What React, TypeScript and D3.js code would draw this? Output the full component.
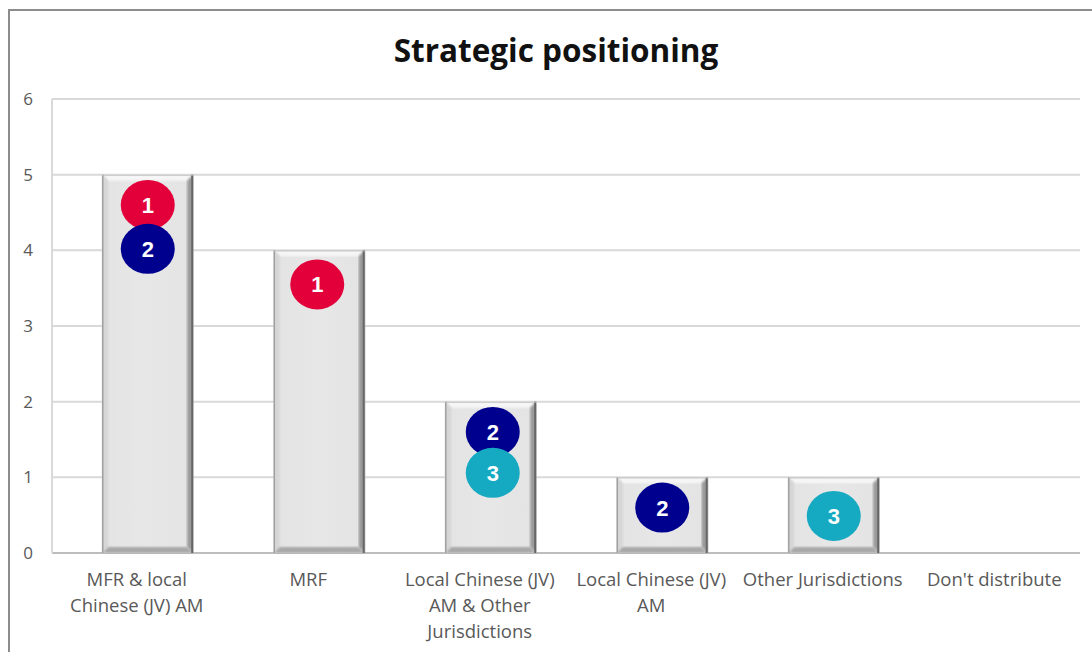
import React from "react";
import * as d3 from "d3";

const categories = [
  ["MFR & local", "Chinese (JV) AM"],
  ["MRF"],
  ["Local Chinese (JV)", "AM & Other", "Jurisdictions"],
  ["Local Chinese (JV)", "AM"],
  ["Other Jurisdictions"],
  ["Don't distribute"],
];
const barValues = [5, 4, 2, 1, 1, 0];
// markers: category index, y value, rank label
const markerCat = [0, 0, 1, 2, 2, 3, 4];
const markerY = [4.6, 4.02, 3.55, 1.6, 1.06, 0.6, 0.49];
const markerRank = [1, 2, 1, 2, 3, 2, 3];
const yTicks = [0, 1, 2, 3, 4, 5, 6];

const rankColor: Record<number, string> = { 1: "#E3003A", 2: "#00008F", 3: "#16AAC2" };

export default function App() {
  const W = 1092, H = 652;
  const x = d3.scaleBand<number>().domain(d3.range(categories.length)).range([62, 1091]).paddingInner(0.47).paddingOuter(0.235);
  const y = d3.scaleLinear().domain([0, 6]).range([553, 99]);
  const font = "'Open Sans', sans-serif";
  return (
    <svg width={W} height={H} style={{ position: "absolute", left: 0, top: 0 }}>
      <defs>
        <linearGradient id="face" x1="0" x2="1" y1="0" y2="0">
          <stop offset="0" stopColor="#E3E3E3" />
          <stop offset="0.5" stopColor="#E7E7E7" />
          <stop offset="1" stopColor="#E3E3E3" />
        </linearGradient>
        <filter id="soft"><feGaussianBlur stdDeviation="1" /></filter>
      </defs>
      <rect x={0} y={0} width={W} height={H} fill="#fff" />
      <line x1={8} x2={1092} y1={10} y2={10} stroke="#8c8c8c" strokeWidth={2} />
      <line x1={9} x2={9} y1={10} y2={652} stroke="#8c8c8c" strokeWidth={2} />
      <text x={556} y={62} textAnchor="middle" fontFamily={font} fontWeight="bold" fontSize={31.5} fill="#111">Strategic positioning</text>
      {yTicks.map((t) => (
        <g key={t}>
          <line x1={52} x2={1080} y1={y(t)} y2={y(t)} stroke={t === 0 ? "#BDBDBD" : "#D9D9D9"} strokeWidth={2} />
          <text x={28} y={y(t) + 6} textAnchor="middle" fontFamily={font} fontSize={17} fill="#595959">{t}</text>
        </g>
      ))}
      <line x1={52} x2={52} y1={99} y2={553} stroke="#D9D9D9" strokeWidth={2} />
      {barValues.map((v, i) => {
        if (v <= 0) return null;
        const x0 = x(i)!, w = x.bandwidth(), y0 = y(v), y1 = y(0);
        const b = 6;
        return (
          <g key={i}>
            <rect x={x0} y={y0} width={w} height={y1 - y0} fill="url(#face)" />
            <polygon points={`${x0},${y0} ${x0 + w},${y0} ${x0 + w - b},${y0 + b} ${x0 + b},${y0 + b}`} fill="#F6F6F6" filter="url(#soft)" />
            <polygon points={`${x0},${y0} ${x0 + b},${y0 + b} ${x0 + b},${y1 - b} ${x0},${y1}`} fill="#D6D6D6" filter="url(#soft)" />
            <polygon points={`${x0 + w},${y0} ${x0 + w},${y1} ${x0 + w - b},${y1 - b} ${x0 + w - b},${y0 + b}`} fill="#9A9A9A" filter="url(#soft)" />
            <polygon points={`${x0},${y1} ${x0 + w},${y1} ${x0 + w - b},${y1 - b} ${x0 + b},${y1 - b}`} fill="#A8A8A8" filter="url(#soft)" />
            <line x1={x0 + 0.5} x2={x0 + 0.5} y1={y0} y2={y1} stroke="#A0A0A0" strokeWidth={1.5} />
            <line x1={x0 + w - 1} x2={x0 + w - 1} y1={y0} y2={y1} stroke="#666" strokeWidth={2} />
            <line x1={x0} x2={x0 + w} y1={y0 + 0.5} y2={y0 + 0.5} stroke="#BBBBBB" strokeWidth={1} />
          </g>
        );
      })}
      {markerCat.map((c, k) => {
        const cx = x(c)! + x.bandwidth() / 2 + (c === 2 ? 2 : c === 1 ? -2 : 0);
        const cy = y(markerY[k]);
        return (
          <g key={k}>
            <ellipse cx={cx} cy={cy} rx={27} ry={25} fill={rankColor[markerRank[k]]} />
            <text x={cx} y={cy + 8} textAnchor="middle" fontFamily="'Liberation Sans', Arial, sans-serif" fontWeight="bold" fontSize={22} fill="#fff">{markerRank[k]}</text>
          </g>
        );
      })}
      {categories.map((lines, i) => {
        const cx = x(i)! + x.bandwidth() / 2 - 11;
        return (
          <text key={i} textAnchor="middle" fontFamily={font} fontSize={18.5} fill="#595959">
            {lines.map((l, j) => (
              <tspan key={j} x={cx} y={586 + j * 26}>{l}</tspan>
            ))}
          </text>
        );
      })}
    </svg>
  );
}
